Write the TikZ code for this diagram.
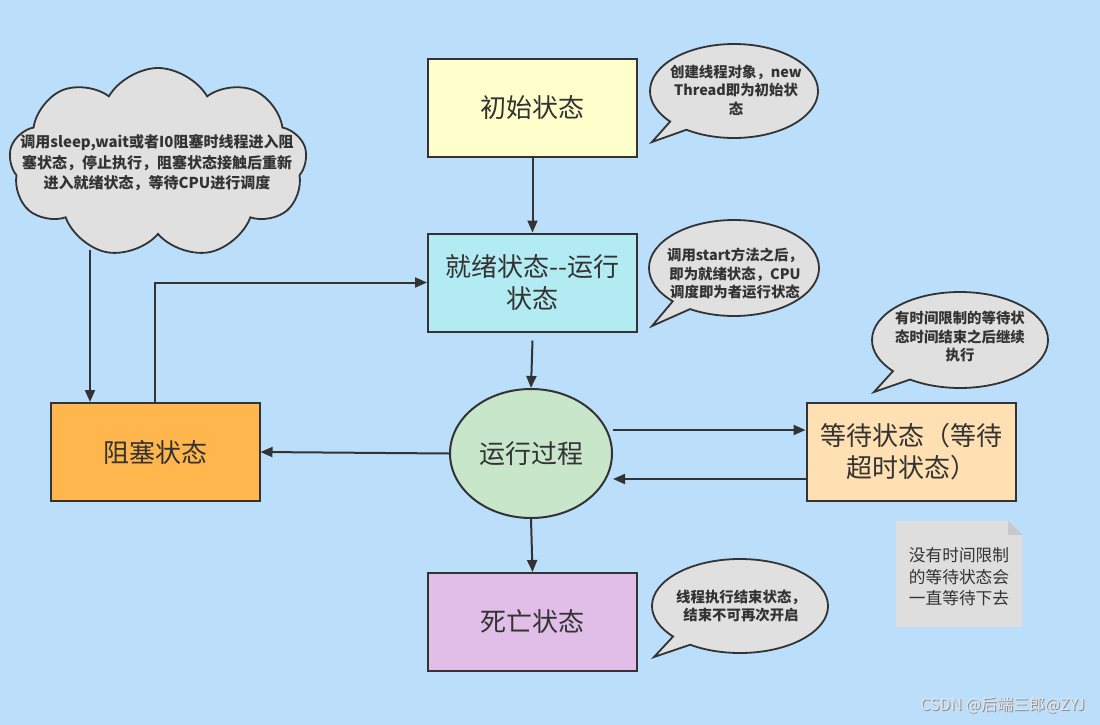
\documentclass[tikz,border=0pt]{standalone}
\usepackage{fontspec}
\setmainfont{Noto Sans CJK SC}
\usetikzlibrary{shapes.geometric,shapes.symbols,shapes.callouts,arrows.meta}
\definecolor{bg}{RGB}{187,222,251}
\definecolor{ink}{RGB}{51,51,51}
\definecolor{cinit}{RGB}{255,255,204}
\definecolor{cready}{RGB}{178,235,242}
\definecolor{crun}{RGB}{200,230,201}
\definecolor{cblock}{RGB}{255,183,77}
\definecolor{cwait}{RGB}{255,224,178}
\definecolor{cdead}{RGB}{225,190,231}
\definecolor{cgray}{RGB}{224,224,224}
\definecolor{cnote}{RGB}{222,222,222}
\definecolor{cfold}{RGB}{200,200,200}
\tikzset{
  statebox/.style={draw=ink, line width=2pt, minimum width=209pt, minimum height=98pt, inner sep=0pt, align=center, font=\fontsize{26}{32}\selectfont, text=ink},
  flow/.style={draw=ink, line width=2pt, -{Triangle[length=12pt,width=10pt]}},
  bubble/.style={ellipse callout, draw=ink, fill=cgray, line width=1.8pt, inner sep=0pt},
  bubbletext/.style={align=center, font=\bfseries\fontsize{14.4}{18.5}\selectfont, text=ink, inner sep=0pt},
}
\begin{document}
\begin{tikzpicture}[x=1pt,y=-1pt]
\fill[bg] (0,0) rectangle (1100,725);
\useasboundingbox (0,0) rectangle (1100,725);

% states
\node[statebox, fill=cinit] (init) at (532.5,108) {初始状态};
\node[statebox, fill=cready] (ready) at (532.5,282.5) {就绪状态{-}{-}运行\\状态};
\node[ellipse, draw=ink, line width=2pt, fill=crun, minimum width=162pt, minimum height=129pt, inner sep=0pt, font=\fontsize{26}{32}\selectfont, text=ink] (run) at (531,453.5) {运行过程};
\node[statebox, fill=cblock] (block) at (155,452) {阻塞状态};
\node[statebox, fill=cwait] (wait) at (911,452) {等待状态（等待\\超时状态）};
\node[statebox, fill=cdead] (dead) at (532.5,622) {死亡状态};

% cloud
\node[cloud, cloud puffs=9, cloud puff arc=120, aspect=1.6, draw=ink, fill=cgray, line width=1.8pt, minimum width=298pt, minimum height=190pt, inner sep=0pt] (cloud) at (158,163) {};
\node[bubbletext, font=\bfseries\fontsize{15}{20.5}\selectfont] (cloudtext) at (157,163) {调用sleep,wait或者I0阻塞时线程进入阻\\塞状态，停止执行，阻塞状态接触后重新\\进入就绪状态，等待CPU进行调度};

% callouts
\coordinate (p1) at (652,142);
\coordinate (p2) at (652,326);
\coordinate (p3) at (874,392);
\coordinate (p4) at (654,657);
\node[bubble, minimum width=168pt, minimum height=94pt, callout absolute pointer={(p1)}] (b1) at (734,91) {};
\node[bubbletext] (t1) at (736,90) {创建线程对象，new\\Thread即为初始状\\态};
\node[bubble, minimum width=170pt, minimum height=96pt, callout absolute pointer={(p2)}] (b2) at (734,268) {};
\node[bubbletext] (t2) at (735,274) {调用start方法之后，\\即为就绪状态，CPU\\调度即为者运行状态};
\node[bubble, minimum width=176pt, minimum height=96pt, callout absolute pointer={(p3)}] (b3) at (960,340) {};
\node[bubbletext] (t3) at (960,337) {有时间限制的等待状\\态时间结束之后继续\\执行};
\node[bubble, minimum width=176pt, minimum height=94pt, callout absolute pointer={(p4)}] (b4) at (740,606) {};
\node[bubbletext] (t4) at (741,606) {线程执行结束状态，\\结束不可再次开启};

% note with folded corner
\node[minimum width=126pt, minimum height=106pt, inner sep=0pt] (note) at (959,574) {};
\fill[cnote] (note.north west) -- ([xshift=-14pt]note.north east) -- ([yshift=-14pt]note.north east) -- (note.south east) -- (note.south west) -- cycle;
\fill[cfold] ([xshift=-14pt]note.north east) -- ([yshift=-14pt]note.north east) -- ([xshift=-14pt,yshift=-14pt]note.north east) -- cycle;
\node[align=center, font=\fontsize{16.7}{21.5}\selectfont, text=ink, inner sep=0pt] (notetext) at (959,577) {没有时间限制\\的等待状态会\\一直等待下去};

% edges
\draw[flow] (init.south) -- (ready.north);
\draw[flow] ([yshift=-8pt]ready.south) -- (run.north);
\draw[flow] (run.south) -- (dead.north);
\draw[flow] (run.west) -- (block.east);
\coordinate (c1) at (90,250);
\draw[flow] (c1) -- (block.north -| c1);
\coordinate (k1) at (155,282.5);
\draw[flow] (block.north -| k1) -- (k1) -- (ready.west);
\draw[flow] (run.east |- 0,430) -- (wait.west |- 0,430);
\draw[flow] (wait.west |- 0,479) -- (run.east |- 0,479);

% watermark
\node[font=\fontsize{16}{18}\selectfont, text=black!45, anchor=east, inner sep=0pt] (wm0) at (1086,706) {CSDN @后端三郎@ZYJ};
\node[font=\fontsize{16}{18}\selectfont, text=white!90!black, anchor=east, inner sep=0pt] (wm) at (1085,705) {CSDN @后端三郎@ZYJ};
\end{tikzpicture}
\end{document}
